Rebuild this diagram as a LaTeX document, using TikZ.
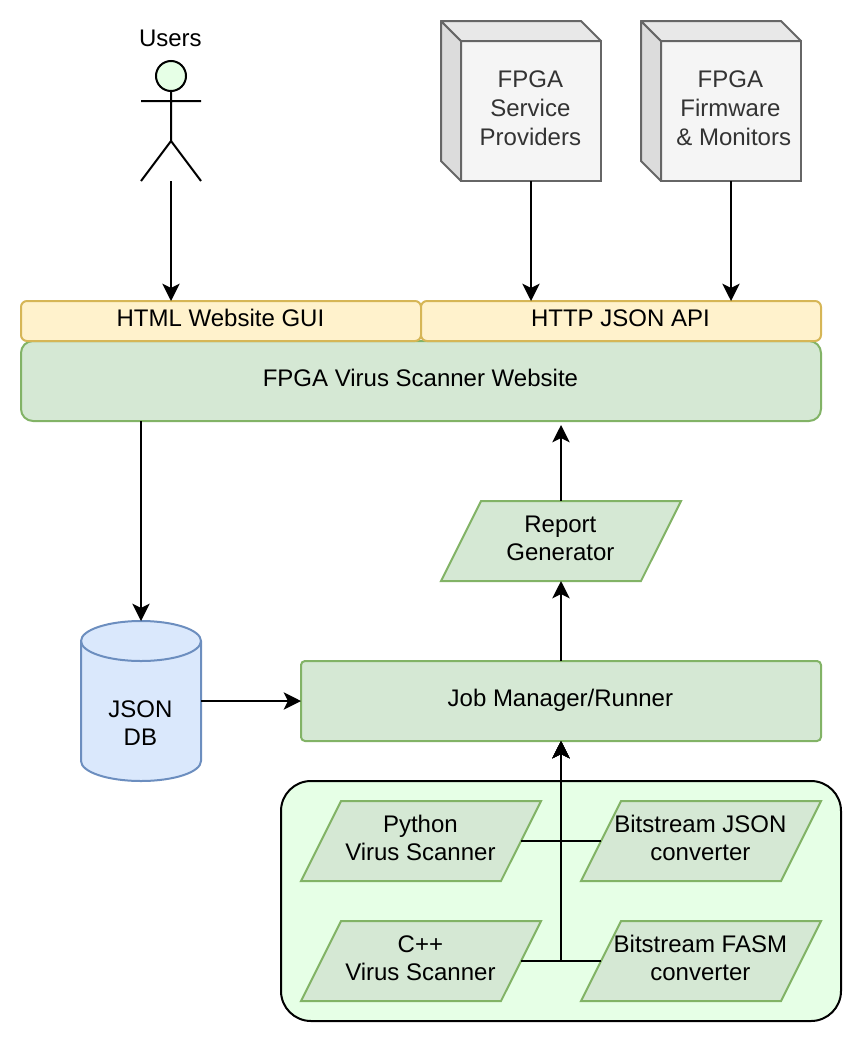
\documentclass[tikz,border=0pt]{standalone}
\usepackage{fontspec}
\setmainfont{Liberation Sans}
\usetikzlibrary{shapes.geometric,arrows.meta}
\definecolor{gfill}{HTML}{D5E8D4}
\definecolor{gline}{HTML}{82B366}
\definecolor{yfill}{HTML}{FFF2CC}
\definecolor{yline}{HTML}{D6B656}
\definecolor{bfill}{HTML}{DAE8FC}
\definecolor{bline}{HTML}{6C8EBF}
\definecolor{cfill}{HTML}{F5F5F5}
\definecolor{cline}{HTML}{666666}
\definecolor{ctext}{HTML}{333333}
\definecolor{mint}{HTML}{E6FFE6}
\newcommand{\T}[1]{\begin{tabular}{@{}c@{}}#1\end{tabular}\hspace*{0.9pt}}
\newcommand{\Z}[1]{\makebox[0pt][c]{\T{#1}}}
\tikzset{
  every node/.style={inner sep=0pt,outer sep=0pt,font=\fontsize{18}{21}\selectfont},
  arrow/.style={line width=1.5pt,-{Stealth[length=13pt,width=13pt,inset=3.2pt]}},
  greenbox/.style={draw=gline,fill=gfill,line width=1.5pt,rounded corners=3pt},
  yellowbox/.style={draw=yline,fill=yfill,line width=1.5pt,rounded corners=4.5pt,minimum width=300pt,minimum height=30pt},
  para/.style={trapezium,trapezium left angle=63.43,trapezium right angle=116.57,trapezium stretches body=true,
     inner ysep=9pt,draw=gline,fill=gfill,line width=1.5pt,minimum width=180pt,minimum height=60pt},
  cubefront/.style={draw=cline,fill=cfill,line width=1.5pt,minimum width=105pt,minimum height=105pt,text=ctext,
     font=\fontsize{18}{21.7}\selectfont},
  cubeside/.style={draw=cline,fill=cline!23!white,line width=1.5pt,line join=round},
  cubetop/.style={draw=cline,fill=cline!15!white,line width=1.5pt,line join=round},
  ghost/.style={draw=none,fill=none},
}
\begin{document}
\begin{tikzpicture}[x=0.75pt,y=-0.75pt]
\useasboundingbox (0,0) rectangle (862,1042);
% actor
\node[ghost,minimum width=45pt,minimum height=90pt] (usr) at (171,121) {};
\node (usrlabel) at (171,41) {\T{Users}};
\draw[line width=1.5pt,fill=mint] (171,76) circle[radius=11.25pt];
\draw[line width=1.5pt,line join=round] (171,91) -- (171,141) (141,101) -- (201,101) (141,181) -- (171,141) -- (201,181);
% cubes
\node[cubefront] (fsp) at (531,111) {\T{FPGA\\Service\\Providers}};
\draw[cubeside] (fsp.north west) -- ++(-20,-20) -- ++(0,140) -- (fsp.south west) -- cycle;
\draw[cubetop] (fsp.north west) -- ++(-20,-20) -- ++(140,0) -- (fsp.north east) -- cycle;
\node[cubefront] (ffm) at (731,111) {\T{FPGA\\Firmware\\~\& Monitors}};
\draw[cubeside] (ffm.north west) -- ++(-20,-20) -- ++(0,140) -- (ffm.south west) -- cycle;
\draw[cubetop] (ffm.north west) -- ++(-20,-20) -- ++(140,0) -- (ffm.north east) -- cycle;
% website
\node[greenbox,rounded corners=9pt,minimum width=600pt,minimum height=60pt] (web) at (421,381) {\T{FPGA Virus Scanner Website}};
\node[yellowbox] (gui) at (221,321) {\T{HTML Website GUI}};
\node[yellowbox] (api) at (621,321) {\T{HTTP JSON API}};
\coordinate (usrin) at (171,301);
\coordinate (fspin) at (531,301);
\coordinate (ffmin) at (731,301);
\coordinate (webin) at (561,425);
\coordinate (webout) at (141,421);
% database
\node[ghost,minimum width=90pt,minimum height=120pt] (db) at (141,701) {};
\draw[draw=bline,fill=bfill,line width=1.5pt] (81,641) -- (81,761) arc[start angle=180,end angle=360,x radius=45pt,y radius=15pt] -- (201,641) arc[start angle=0,end angle=180,x radius=45pt,y radius=15pt] -- cycle;
\draw[draw=bline,line width=1.5pt] (81,641) arc[start angle=180,end angle=360,x radius=45pt,y radius=15pt];
\node (dblabel) at (141,726) {\T{JSON\\DB}};
% job manager and report
\node[greenbox,minimum width=390pt,minimum height=60pt] (job) at (561,701) {\T{Job Manager/Runner}};
\node[para] (rep) at (561,541) {\Z{Report\\Generator}};
% scanners group
\node[draw=black,fill=mint,line width=1.5pt,rounded corners=22.5pt,minimum width=420pt,minimum height=180pt] (grp) at (561,901) {};
\node[para] (py) at (421,841) {\Z{Python\\Virus Scanner}};
\node[para] (bj) at (701,841) {\Z{Bitstream JSON\\converter}};
\node[para] (cpp) at (421,961) {\Z{C++\\Virus Scanner}};
\node[para] (bf) at (701,961) {\Z{Bitstream FASM\\converter}};
% connectors
\draw[arrow] (usr.south) -- (usrin);
\draw[arrow] (fsp.south) -- (fspin);
\draw[arrow] (ffm.south) -- (ffmin);
\draw[arrow] (webout) -- (db.north);
\draw[arrow] (db.east) -- (job.west);
\draw[arrow] (job.north) -- (rep.south);
\draw[arrow] (rep.north) -- (webin);
\draw[arrow] (py.east) -| (job.south);
\draw[arrow] (bj.west) -| (job.south);
\draw[arrow] (cpp.east) -| (job.south);
\draw[arrow] (bf.west) -| (job.south);
\end{tikzpicture}
\end{document}
